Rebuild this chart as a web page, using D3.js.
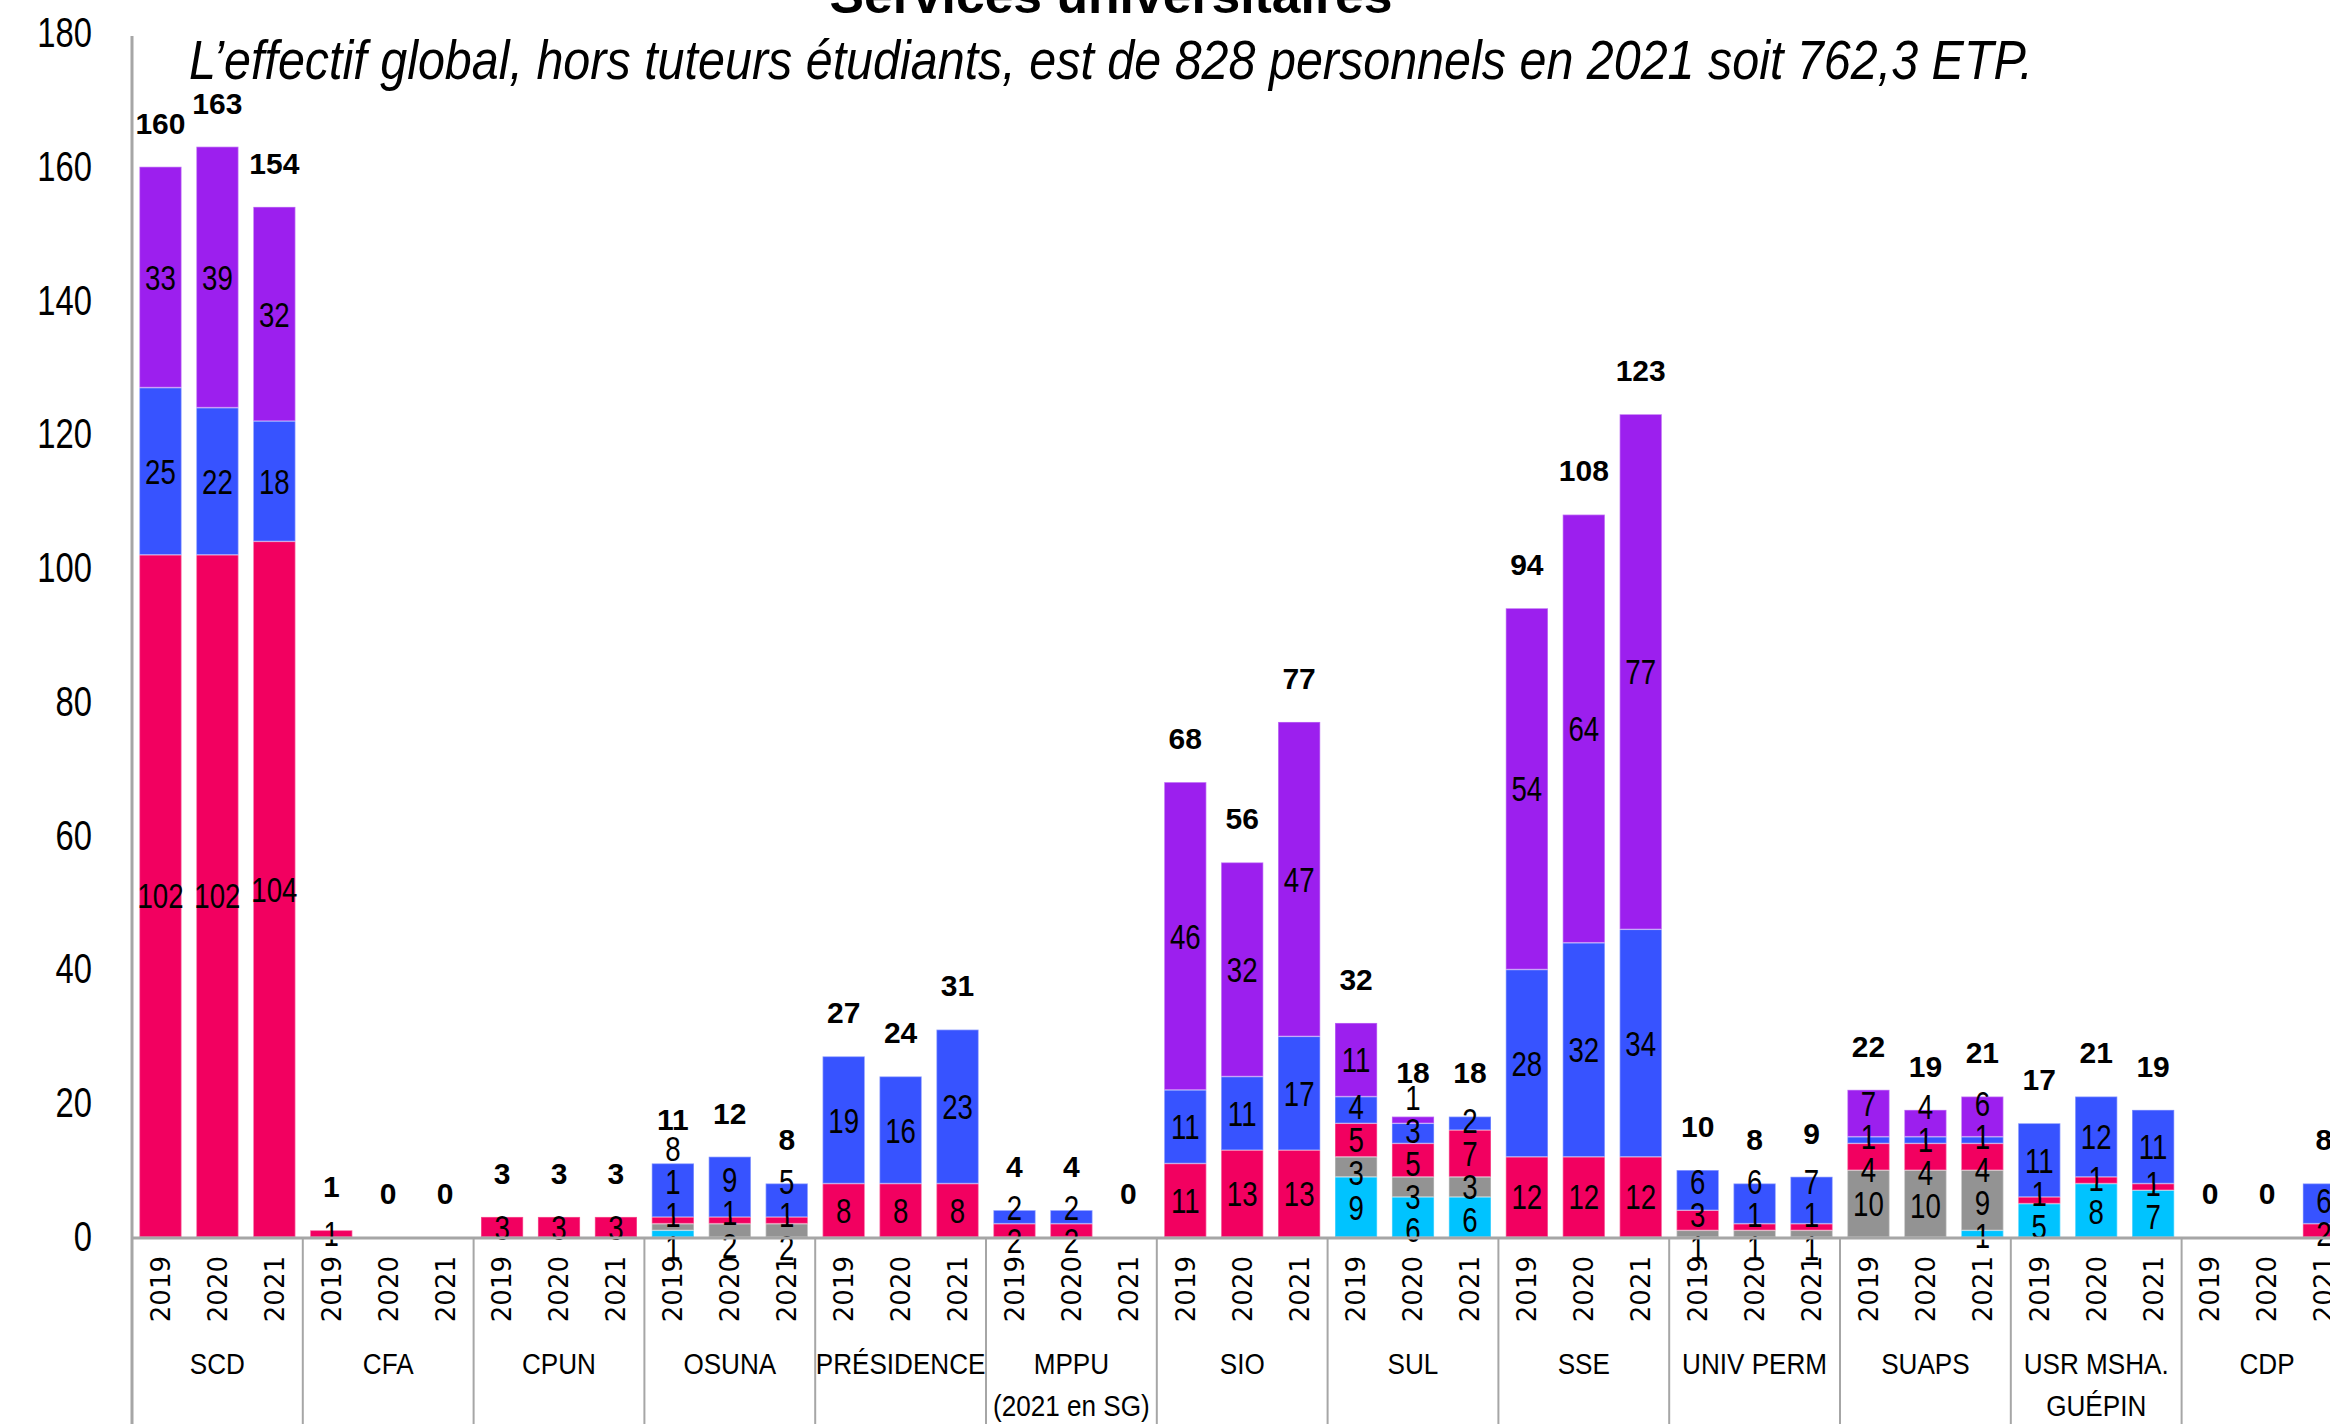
<!DOCTYPE html>
<meta charset="utf-8">
<style>
  body { margin: 0; background: #fff; }
  svg text { font-family: "Liberation Sans", Arial, sans-serif; fill: #000; }
  .year { font-family: "DejaVu Sans", sans-serif; font-size: 26px; }
</style>
<script src="https://d3js.org/d3.v7.min.js"></script>
<div id="chart"></div>
<script>

// ---- data ----
var title = "Services universitaires";
var subtitle = "L’effectif global, hors tuteurs étudiants, est de 828 personnels en 2021 soit 762,3 ETP.";

var groups = ["SCD", "CFA", "CPUN", "OSUNA", "PRÉSIDENCE", "MPPU\n(2021 en SG)", "SIO", "SUL",
              "SSE", "UNIV PERM", "SUAPS", "USR MSHA.\nGUÉPIN", "CDP"];
var years = ["2019", "2020", "2021"];
var yTicks = [0, 20, 40, 60, 80, 100, 120, 140, 160, 180];

// stacked from bottom to top, 3 values (2019, 2020, 2021) per group
var seriesKeys = ["cyan", "gris", "rose", "bleu", "violet"];
var cyanVals   = [0,0,0,  0,0,0,  0,0,0,  1,0,0,  0,0,0,  0,0,0,  0,0,0,   9,6,6,  0,0,0,    0,0,0,  0,0,1,   5,8,7,    0,0,0];
var grisVals   = [0,0,0,  0,0,0,  0,0,0,  1,2,2,  0,0,0,  0,0,0,  0,0,0,   3,3,3,  0,0,0,    1,1,1,  10,10,9, 0,0,0,    0,0,0];
var roseVals   = [102,102,104, 1,0,0, 3,3,3, 1,1,1, 8,8,8, 2,2,0, 11,13,13, 5,5,7, 12,12,12, 3,1,1, 4,4,4, 1,1,1, 0,0,2];
var bleuVals   = [25,22,18, 0,0,0, 0,0,0, 8,9,5, 19,16,23, 2,2,0, 11,11,17, 4,3,2, 28,32,34, 6,6,7, 1,1,1, 11,12,11, 0,0,6];
var violetVals = [33,39,32, 0,0,0, 0,0,0, 0,0,0, 0,0,0, 0,0,0, 46,32,47, 11,1,0, 54,64,77, 0,0,0, 7,4,6, 0,0,0, 0,0,0];

var colors = {cyan: "#00C3FF", gris: "#939393", rose: "#F20060", bleu: "#3753FF", violet: "#9C1FEE"};

// ---- layout ----
var W = 2330, H = 1424;
var x0Left = 132, groupW = 170.8;

var svg = d3.select("#chart").append("svg")
  .attr("width", W)
  .attr("height", H)
  .style("display", "block");

var seriesVals = {cyan: cyanVals, gris: grisVals, rose: roseVals, bleu: bleuVals, violet: violetVals};
var rows = [];
groups.forEach(function(g, gi) {
  years.forEach(function(yr, yi) {
    var r = {group: g, year: yr};
    seriesKeys.forEach(function(k) { r[k] = seriesVals[k][gi * 3 + yi]; });
    r.total = d3.sum(seriesKeys, function(k) { return r[k]; });
    rows.push(r);
  });
});

var x = d3.scaleBand()
  .domain(groups)
  .range([x0Left, x0Left + groupW * groups.length]);

var xYear = d3.scaleBand()
  .domain(years)
  .range([0, x.bandwidth()])
  .paddingInner(0.26)
  .paddingOuter(0.13);

var y = d3.scaleLinear()
  .domain([0, 180])
  .range([1237, 33]);

var stack = d3.stack().keys(seriesKeys);
var layers = stack(rows);

// narrow looking text: squeeze horizontally
function narrowText(g, px, py, str, sx) {
  return g.append("text")
    .attr("transform", "translate(" + px + "," + py + ") scale(" + sx + ",1)")
    .attr("dy", "0.36em")
    .text(str);
}

// bars
svg.append("g").selectAll("g")
  .data(layers)
  .join("g")
  .attr("fill", function(d) { return colors[d.key]; })
  .selectAll("rect")
  .data(function(d) { return d.filter(function(s) { return s[1] - s[0] > 0; }); })
  .join("rect")
  .attr("x", function(d) { return x(d.data.group) + xYear(d.data.year); })
  .attr("y", function(d) { return y(d[1]); })
  .attr("width", xYear.bandwidth())
  .attr("height", function(d) { return y(d[0]) - y(d[1]); })
  .attr("stroke", "rgba(255,255,255,0.35)")
  .attr("stroke-width", 1.5);

// segment labels, spread apart when they would overlap
var gap = 33;
var labG = svg.append("g").attr("font-size", "35px").attr("text-anchor", "middle");
rows.forEach(function(r, i) {
  var labs = [];
  layers.forEach(function(layer) {
    var s = layer[i];
    if (s[1] - s[0] > 0) {
      labs.push({v: s[1] - s[0], h: y(0) - y((s[0] + s[1]) / 2)});
    }
  });
  for (var it = 0; it < 200; it++) {
    for (var j = 1; j < labs.length; j++) {
      var dd = labs[j].h - labs[j - 1].h;
      if (dd < gap) {
        var m = (gap - dd) / 2;
        labs[j - 1].h -= m;
        labs[j].h += m;
      }
    }
  }
  // do not let the lowest label drop too far under the axis
  if (labs.length && labs[0].h < -10) {
    var up = -10 - labs[0].h;
    labs.forEach(function(l) { l.h += up; });
  }
  var cx = x(r.group) + xYear(r.year) + xYear.bandwidth() / 2;
  labs.forEach(function(l) {
    narrowText(labG, cx, y(0) - l.h, l.v, 0.79);
  });
});

// totals
svg.append("g")
  .attr("font-size", "30px")
  .attr("font-weight", "bold")
  .attr("text-anchor", "middle")
  .selectAll("text")
  .data(rows)
  .join("text")
  .attr("x", function(d) { return x(d.group) + xYear(d.year) + xYear.bandwidth() / 2; })
  .attr("y", function(d) { return y(d.total) - 44; })
  .attr("dy", "0.36em")
  .text(function(d) { return d.total; });

// y axis labels
var yAxis = svg.append("g")
  .attr("transform", "translate(92,0)")
  .call(d3.axisLeft(y).tickValues(yTicks).tickSize(0).tickPadding(0));
yAxis.select(".domain").remove();
yAxis.selectAll("text")
  .attr("fill", "#000")
  .attr("font-size", "42px")
  .attr("transform", "scale(0.78,1)")
  .style("font-family", "\"Liberation Sans\", Arial, sans-serif");

// axis lines and category separators
var axisCol = "#A6A6A6";
svg.append("line")
  .attr("x1", x0Left).attr("x2", W)
  .attr("y1", y(0) + 1).attr("y2", y(0) + 1)
  .attr("stroke", axisCol).attr("stroke-width", 3);

svg.append("line")
  .attr("x1", x0Left).attr("x2", x0Left)
  .attr("y1", 36).attr("y2", H)
  .attr("stroke", axisCol).attr("stroke-width", 3);

svg.append("g").selectAll("line")
  .data(groups.slice(1))
  .join("line")
  .attr("x1", function(d) { return x(d); })
  .attr("x2", function(d) { return x(d); })
  .attr("y1", y(0))
  .attr("y2", H)
  .attr("stroke", axisCol)
  .attr("stroke-width", 2);

// year labels (rotated)
var yearG = svg.append("g");
groups.forEach(function(g) {
  years.forEach(function(yr) {
    var cx = x(g) + xYear(yr) + xYear.bandwidth() / 2;
    yearG.append("text")
      .attr("class", "year")
      .attr("transform", "translate(" + cx + ",1256) rotate(-90)")
      .attr("text-anchor", "end")
      .attr("dy", "0.36em")
      .text(yr);
  });
});

// group labels
var grpG = svg.append("g").attr("font-size", "29px").attr("text-anchor", "middle");
groups.forEach(function(g) {
  var lines = g.split("\n");
  lines.forEach(function(t, li) {
    narrowText(grpG, x(g) + x.bandwidth() / 2, 1364 + li * 42, t, 0.9);
  });
});

// titles
svg.append("text")
  .attr("x", 1111)
  .attr("y", 13)
  .attr("text-anchor", "middle")
  .attr("font-size", "50px")
  .attr("font-weight", "bold")
  .attr("textLength", 563)
  .attr("lengthAdjust", "spacingAndGlyphs")
  .text(title);

svg.append("text")
  .attr("x", 189)
  .attr("y", 79)
  .attr("font-size", "56px")
  .attr("font-style", "italic")
  .attr("textLength", 1844)
  .attr("lengthAdjust", "spacingAndGlyphs")
  .text(subtitle);

</script>
